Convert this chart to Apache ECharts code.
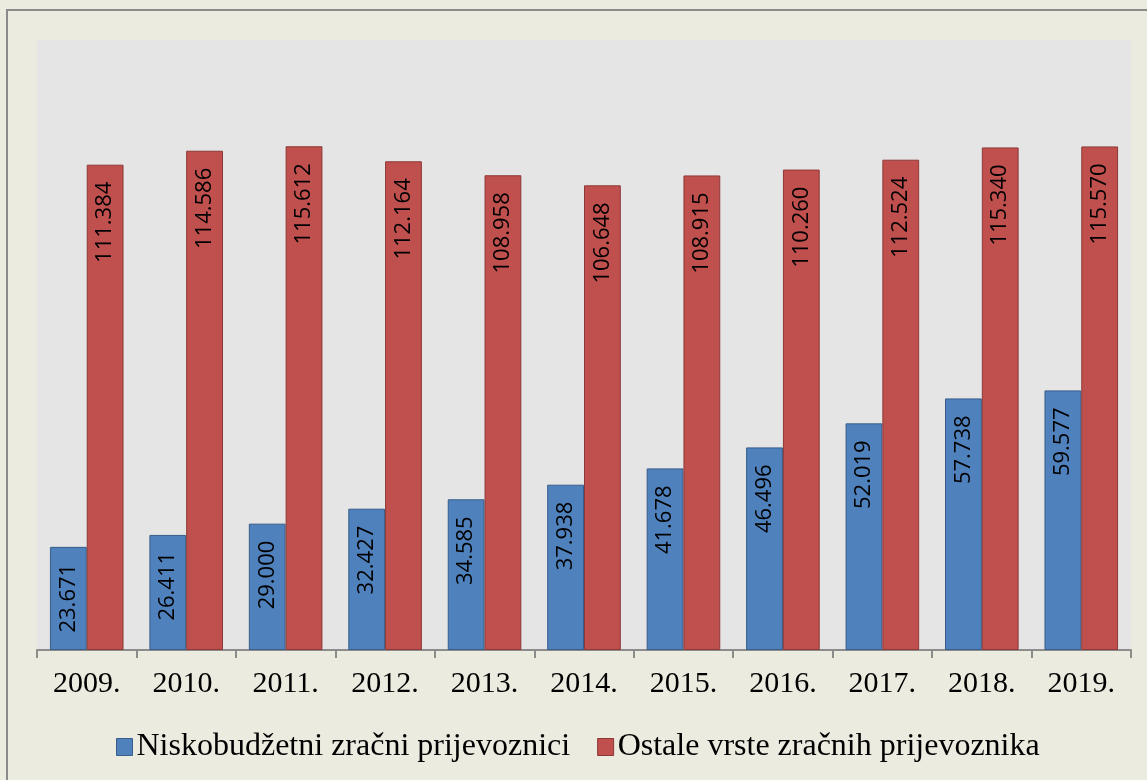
<!DOCTYPE html>
<html>
<head>
    <meta charset="utf-8">
    <title>Putnici</title>
    <script src="https://cdn.jsdelivr.net/npm/echarts@6.0.0/dist/echarts.min.js"></script>
    <style>
        html, body { margin: 0; padding: 0; background: #ffffff; }
        #chart { width: 1147px; height: 780px; }
    </style>
</head>
<body>
    <div id="chart"></div>
    <script>
        // podaci
        var godine = ['2009.', '2010.', '2011.', '2012.', '2013.', '2014.', '2015.', '2016.', '2017.', '2018.', '2019.'];
        var niskobudzetni = [23.671, 26.411, 29.000, 32.427, 34.585, 37.938, 41.678, 46.496, 52.019, 57.738, 59.577];
        var ostali = [111.384, 114.586, 115.612, 112.164, 108.958, 106.648, 108.915, 110.260, 112.524, 115.340, 115.570];
        var nazivi = ['Niskobudžetni zračni prijevoznici', 'Ostale vrste zračnih prijevoznika'];

        var chart = echarts.init(document.getElementById('chart'));

        var oznaka = {
            show: true,
            position: 'insideTop',
            rotate: 90,
            align: 'right',
            verticalAlign: 'middle',
            distance: 17,
            color: '#000',
            fontFamily: 'Open Sans',
            fontSize: 22,
            formatter: function (p) { return p.value.toFixed(3); }
        };

        var option = {
            backgroundColor: '#ecebe0',
            animation: false,
            graphic: [{
                type: 'rect',
                shape: { x: 7, y: 10, width: 1160, height: 800 },
                style: { fill: 'none', stroke: '#8a8a8a', lineWidth: 2 },
                silent: true
            }],
            grid: {
                left: 37, right: 16, top: 40, bottom: 130,
                show: true,
                backgroundColor: '#e5e5e5',
                borderWidth: 0
            },
            legend: {
                left: 111,
                top: 726,
                icon: 'rect',
                itemWidth: 16,
                itemHeight: 17,
                itemGap: 27,
                itemStyle: { borderWidth: 1 },
                textStyle: { fontFamily: 'Liberation Serif', fontSize: 32, color: '#000', padding: [0, 0, 0, -1] },
                data: nazivi
            },
            xAxis: {
                type: 'category',
                data: godine,
                axisLine: { lineStyle: { color: '#8c8c8c', width: 2 } },
                axisTick: { show: true, interval: 0, length: 8, lineStyle: { color: '#8c8c8c', width: 2 } },
                axisLabel: { fontFamily: 'Liberation Serif', fontSize: 30, color: '#000', margin: 19 }
            },
            yAxis: {
                type: 'value',
                min: 0,
                max: 140,
                show: false,
                splitLine: { show: false }
            },
            series: [{
                name: nazivi[0],
                type: 'bar',
                data: niskobudzetni,
                barGap: 0,
                barCategoryGap: '26%',
                itemStyle: { color: '#4f81bd', borderColor: '#385d8a', borderWidth: 1 },
                label: oznaka
            }, {
                name: nazivi[1],
                type: 'bar',
                data: ostali,
                itemStyle: { color: '#c0504d', borderColor: '#8c3836', borderWidth: 1 },
                label: oznaka
            }]
        };
        chart.setOption(option);
    </script>
</body>
</html>
